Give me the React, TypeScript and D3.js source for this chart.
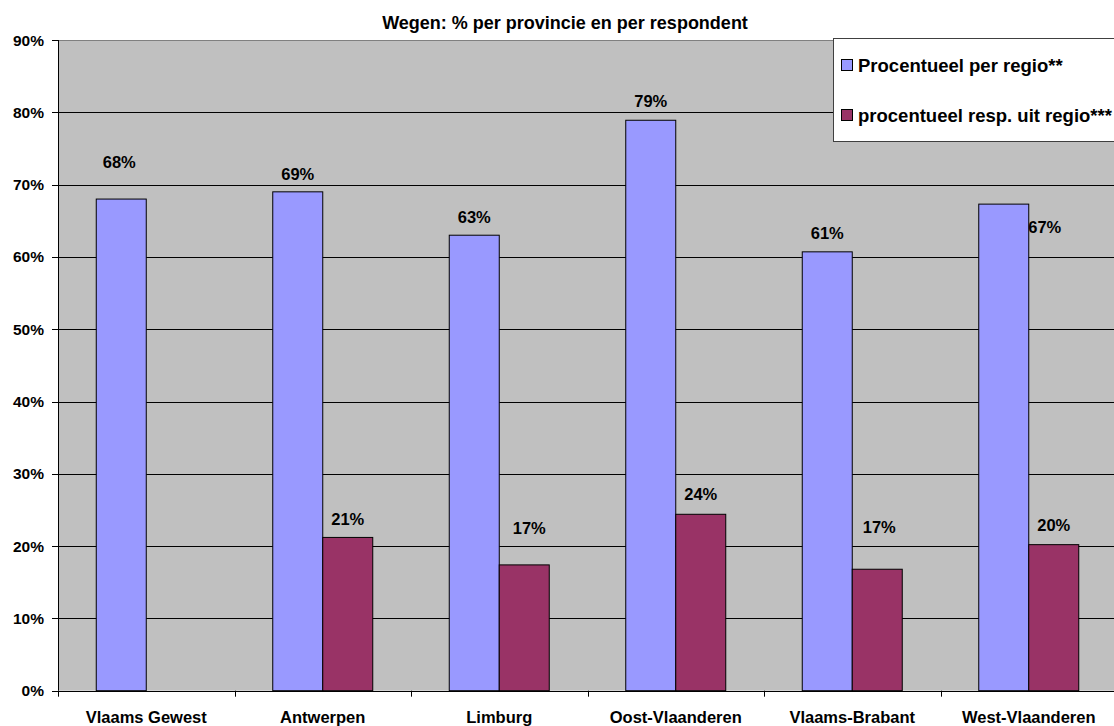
import React from "react";
import * as d3 from "d3";

const categories = ["Vlaams Gewest", "Antwerpen", "Limburg", "Oost-Vlaanderen", "Vlaams-Brabant", "West-Vlaanderen"];
const perRegio = [68.0, 69.0, 63.0, 78.9, 60.7, 67.3];
const respUitRegio: (number | null)[] = [null, 21.2, 17.4, 24.4, 16.8, 20.2];
const perRegioLabels = ["68%", "69%", "63%", "79%", "61%", "67%"];
const respLabels = ["", "21%", "17%", "24%", "17%", "20%"];
const yTicks = [0, 10, 20, 30, 40, 50, 60, 70, 80, 90];
const seriesNames = ["Procentueel per regio**", "procentueel resp. uit regio***"];
const title = "Wegen: % per provincie en per respondent";

// label nudges (layout only, pixels): [dx, gap above bar to baseline]
const blueLabelNudge = [[-2, 31], [0, 12], [0, 12], [0, 13], [0, 13], [41, -29]];
const redLabelNudge = [[0, 0], [0, 12], [5, 31], [0, 14], [2, 36], [0, 14]];

const W = 1114, H = 726;
const M = { left: 58, top: 40, right: -3 };
const FONT = "Arial, 'Liberation Sans', Helvetica, sans-serif";
const BLUE = "#9999FF";
const RED = "#993366";

export default function App() {
  const x0 = M.left, x1 = W - M.right;
  const yTop = M.top, yBot = 690.7;
  const x = d3.scaleBand<string>().domain(categories).range([x0, x1]).paddingInner(0).paddingOuter(0);
  const y = d3.scaleLinear().domain([0, 90]).range([yBot, yTop]);
  const bw = x.bandwidth();
  const barW = 50;
  const pad = (bw - 2 * barW) / 2;
  const barX = (i: number, s: number) => (x(categories[i]) as number) + pad + s * barW;

  return (
    <svg width={W} height={H} style={{ position: "absolute", left: 0, top: 0, background: "#fff" }} fontFamily={FONT}>
      <text x={565} y={29} textAnchor="middle" fontWeight="bold" fontSize={18}>{title}</text>
      <rect x={x0} y={yTop} width={x1 - x0} height={yBot - yTop} fill="#C0C0C0" />
      {yTicks.map((t) => (
        <g key={t}>
          {t > 0 && (
            <line x1={x0} x2={x1} y1={Math.round(y(t)) + 0.5} y2={Math.round(y(t)) + 0.5}
              stroke={t === 90 ? "#808080" : "#000"} strokeWidth={1} />
          )}
          <line x1={x0 - 6} x2={x0} y1={Math.round(y(t)) + 0.5} y2={Math.round(y(t)) + 0.5} stroke="#000" />
          <text x={44} y={y(t) + 5.5} textAnchor="end" fontWeight="bold" fontSize={15.5}>{t}%</text>
        </g>
      ))}
      {categories.map((c, i) => (
        <g key={c}>
          <rect x={barX(i, 0)} y={y(perRegio[i])} width={barW} height={yBot - y(perRegio[i])} fill={BLUE} stroke="#000" strokeWidth={1} />
          {respUitRegio[i] != null && (
            <rect x={barX(i, 1)} y={y(respUitRegio[i] as number)} width={barW} height={yBot - y(respUitRegio[i] as number)} fill={RED} stroke="#000" strokeWidth={1} />
          )}
        </g>
      ))}
      <line x1={x0 + 0.5} x2={x0 + 0.5} y1={yTop} y2={yBot} stroke="#000" />
      <line x1={x0} x2={x1} y1={Math.round(yBot) + 0.5} y2={Math.round(yBot) + 0.5} stroke="#000" />
      {categories.map((c) => (
        <line key={"t" + c} x1={Math.round(x(c) as number) + 0.5} x2={Math.round(x(c) as number) + 0.5} y1={yBot} y2={yBot + 6} stroke="#000" />
      ))}
      {categories.map((c) => (
        <text key={"l" + c} x={(x(c) as number) + bw / 2} y={723} textAnchor="middle" fontWeight="bold" fontSize={16.5}>{c}</text>
      ))}
      {categories.map((c, i) => (
        <text key={"b" + c} x={barX(i, 0) + barW / 2 + blueLabelNudge[i][0]} y={y(perRegio[i]) - blueLabelNudge[i][1]}
          textAnchor="middle" fontWeight="bold" fontSize={16.5}>{perRegioLabels[i]}</text>
      ))}
      {categories.map((c, i) => respUitRegio[i] != null && (
        <text key={"r" + c} x={barX(i, 1) + barW / 2 + redLabelNudge[i][0]} y={y(respUitRegio[i] as number) - redLabelNudge[i][1]}
          textAnchor="middle" fontWeight="bold" fontSize={16.5}>{respLabels[i]}</text>
      ))}
      <rect x={833.5} y={38.5} width={300} height={103} fill="#fff" stroke="#404040" strokeWidth={1} />
      {seriesNames.map((s, k) => (
        <g key={s}>
          <rect x={841.5} y={(k === 0 ? 59 : 109) + 0.5} width={11} height={11} fill={k === 0 ? BLUE : RED} stroke="#000" />
          <text x={858} y={k === 0 ? 72 : 122} fontWeight="bold" fontSize={18.5}>{s}</text>
        </g>
      ))}
    </svg>
  );
}
